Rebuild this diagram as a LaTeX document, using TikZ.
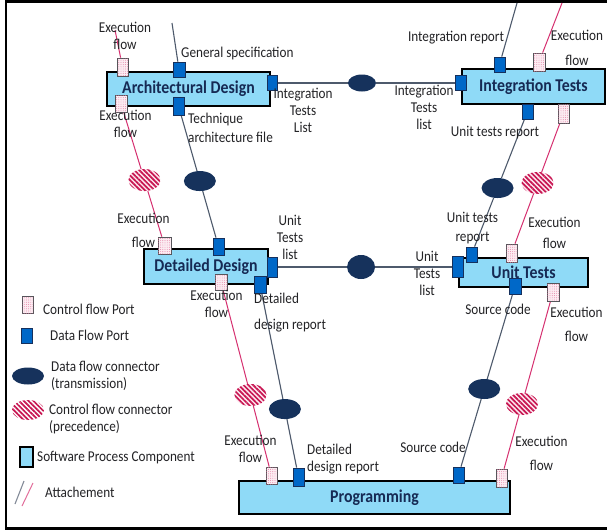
\documentclass[tikz,border=0pt]{standalone}
\usepackage{fontspec}
\setmainfont{Carlito}[FakeStretch=0.88]
\usetikzlibrary{shapes.geometric,patterns.meta,calc}

\definecolor{compfill}{RGB}{143,218,247}
\definecolor{titlenavy}{RGB}{22,42,84}
\definecolor{portblue}{RGB}{0,104,200}
\definecolor{portedge}{RGB}{22,48,92}
\definecolor{cfill}{RGB}{252,236,242}
\definecolor{cdot}{RGB}{226,120,158}
\definecolor{cedge}{RGB}{85,85,90}
\definecolor{dellfill}{RGB}{22,50,92}
\definecolor{hatchbg}{RGB}{253,232,240}
\definecolor{hatchred}{RGB}{200,22,82}
\definecolor{dlinecol}{RGB}{78,90,108}
\definecolor{clinecol}{RGB}{214,48,112}
\definecolor{labelcol}{RGB}{35,35,38}

\newcommand\lblfont{\fontsize{15}{17}\selectfont}
\newcommand\titlefont{\fontsize{18}{20}\selectfont\bfseries}

\pgfdeclarelayer{paper}
\pgfdeclarelayer{links}
\pgfsetlayers{paper,links,main}

\begin{document}
\begin{tikzpicture}[x=1pt,y=-1pt,
  comp/.style={draw=black, line width=2.2pt, fill=compfill, text=titlenavy,
    font=\titlefont, inner sep=0pt},
  dport/.style={draw=portedge, line width=0.8pt, fill=portblue,
    minimum width=11, minimum height=16, inner sep=0pt},
  cport/.style={draw=cedge, line width=0.7pt, fill=cfill,
    postaction={pattern={Dots[radius=0.45pt,distance=2.2pt]}, pattern color=cdot},
    minimum width=11, minimum height=17, inner sep=0pt},
  dconn/.style={ellipse, fill=dellfill, inner sep=0pt,
    minimum width=32, minimum height=20},
  cconn/.style={ellipse, fill=hatchbg, inner sep=0pt,
    postaction={pattern={Lines[angle=-45,distance=3.4pt,line width=1.7pt]}, pattern color=hatchred},
    minimum width=32, minimum height=22},
  dline/.style={draw=dlinecol, line width=1.1pt},
  cline/.style={draw=clinecol, line width=1pt},
  lbl/.style={font=\lblfont, text=labelcol, inner sep=0pt, align=center},
  lbll/.style={lbl, align=left, anchor=west}]

% page and frame
\useasboundingbox (0,0) rectangle (607,531);
\begin{pgfonlayer}{paper}
  \fill[white] (0,0) rectangle (607,531);
  \draw[line width=2.6pt] (6,1.5) rectangle (620,528.5);
\end{pgfonlayer}

% software process components
\node[comp, minimum width=163, minimum height=34] (arch) at (188.5,89) {Architectural Design};
\node[comp, minimum width=143, minimum height=35] (integ) at (533.5,86.5) {Integration Tests};
\node[comp, minimum width=124, minimum height=35] (detail) at (206,266.5) {Detailed Design};
\node[comp, minimum width=129, minimum height=29] (unit) at (523.5,272.5) {Unit Tests};
\node[comp, minimum width=271, minimum height=33] (prog) at (374.5,497.5) {Programming};

% ports of Architectural Design
\node[cport, minimum height=18] (ctrlA1) at (122.5,67) {};
\node[dport, minimum width=12, minimum height=15] (dataA1) at (179,69.5) {};
\node[dport, minimum width=10, minimum height=15] (dataA2) at (272,83) {};
\node[cport, minimum width=12] (ctrlA2) at (121,103.5) {};
\node[dport, minimum height=18] (dataA3) at (178.5,106) {};

% ports of Integration Tests
\node[dport, minimum height=15] (dataI1) at (460.5,83) {};
\node[dport, minimum height=15] (dataI2) at (499.5,64.5) {};
\node[cport, minimum width=12, minimum height=18] (ctrlI1) at (539,62) {};
\node[dport, minimum height=15] (dataI3) at (527.5,111.5) {};
\node[cport, minimum height=19] (ctrlI2) at (563.5,113.5) {};

% ports of Detailed Design
\node[cport, minimum width=13] (ctrlD1) at (164.5,245.5) {};
\node[dport, minimum height=17] (dataD1) at (218.5,246.5) {};
\node[dport, minimum width=10, minimum height=20] (dataD2) at (272,267) {};
\node[dport, minimum width=12, minimum height=17] (dataD3) at (260,284.5) {};
\node[cport, minimum width=12, minimum height=16] (ctrlD2) at (221,282) {};

% ports of Unit Tests
\node[dport, minimum height=21] (dataU1) at (457.5,267) {};
\node[dport, minimum height=15] (dataU2) at (471.5,254.5) {};
\node[cport, minimum height=18] (ctrlU1) at (511.5,253) {};
\node[dport, minimum width=12] (dataU3) at (515,286) {};
\node[cport, minimum width=12, minimum height=18] (ctrlU2) at (553,292) {};

% ports of Programming
\node[cport] (ctrlP1) at (271.5,475.5) {};
\node[dport, minimum height=18] (dataP1) at (298.5,477) {};
\node[dport] (dataP2) at (458.5,475) {};
\node[cport, minimum height=18] (ctrlP2) at (501.5,478) {};

% connectors (transmission and precedence)
\node[dconn] (eD1) at ($(dataA3)!0.534!(dataD1)$) {};
\node[cconn] (eC1) at ($(ctrlA2)!0.539!(ctrlD1)$) {};
\node[dconn, minimum width=28, minimum height=17] (eH1) at ($(dataA2)!0.477!(dataI1)$) {};
\node[dconn] (eD2) at ($(dataI3)!0.535!(dataU2)$) {};
\node[cconn] (eC2) at ($(ctrlI2)!0.498!(ctrlU1)$) {};
\node[dconn, minimum width=28, minimum height=24] (eH2) at ($(dataD2)!0.48!(dataU1)$) {};
\node[dconn] (eD3) at ($(dataD3)!0.647!(dataP1)$) {};
\node[cconn] (eC3) at ($(ctrlD2)!0.584!(ctrlP1)$) {};
\node[dconn] (eD4) at ($(dataU3)!0.545!(dataP2)$) {};
\node[cconn] (eC4) at ($(ctrlU2)!0.602!(ctrlP2)$) {};

% free ends of the incoming attachments
\coordinate (inA) at (172,23);
\coordinate (inAc) at (115,30);
\coordinate (inI) at (517,3);
\coordinate (inIc) at (562,3);

% attachments
\begin{pgfonlayer}{links}
  \draw[dline] (inA) -- (dataA1);
  \draw[cline] (inAc) -- (ctrlA1);
  \draw[dline] (inI) -- (dataI2);
  \draw[cline] (inIc) -- (ctrlI1);
  \draw[dline] (dataA3) -- (eD1) -- (dataD1);
  \draw[cline] (ctrlA2) -- (eC1) -- (ctrlD1);
  \draw[dline] (dataA2) -- (eH1) -- (dataI1);
  \draw[dline] (dataI3) -- (eD2) -- (dataU2);
  \draw[cline] (ctrlI2) -- (eC2) -- (ctrlU1);
  \draw[dline] (dataD2) -- (eH2) -- (dataU1);
  \draw[dline] (dataD3) -- (eD3) -- (dataP1);
  \draw[cline] (ctrlD2) -- (eC3) -- (ctrlP1);
  \draw[dline] (dataU3) -- (eD4) -- (dataP2);
  \draw[cline] (ctrlU2) -- (eC4) -- (ctrlP2);
\end{pgfonlayer}

% labels
\node[lbl] (l1) at (125,36) {Execution\\flow};
\node[lbll] (l2) at (181,53) {General specification};
\node[lbl] (l3) at (125.5,124) {Execution\\flow};
\node[lbll] (l4) at (188,127.5) {Technique\\[2pt]architecture file};
\node[lbl] (l5) at (303,110) {Integration\\Tests\\List};
\node[lbl] (l6) at (456,38) {Integration report};
\node[lbl] (l7) at (577,47.5) {Execution\\[8pt]flow};
\node[lbl] (l8) at (424,107) {Integration\\Tests\\list};
\node[lbl] (l9) at (495,133) {Unit tests report};
\node[lbl] (l10) at (143.5,230) {Execution\\[7pt]flow};
\node[lbl] (l11) at (290,237.5) {Unit\\Tests\\list};
\node[lbl] (l12) at (216.5,303.5) {Execution\\flow};
\node[lbll] (l13) at (254,313) {Detailed\\[9pt]design report};
\node[lbl] (l14) at (472.5,228.5) {Unit tests\\[2pt]report};
\node[lbl] (l15) at (554.5,232.5) {Execution\\[4pt]flow};
\node[lbl] (l16) at (427,273) {Unit\\Tests\\list};
\node[lbl] (l17) at (498,309) {Source code};
\node[lbl] (l18) at (576.5,324) {Execution\\[7pt]flow};
\node[lbl] (l19) at (250.5,449) {Execution\\flow};
\node[lbll] (l20) at (307,459) {Detailed\\design report};
\node[lbl] (l21) at (433,447) {Source code};
\node[lbl] (l22) at (541.5,453) {Execution\\[7pt]flow};

% legend
\node[cport] (kC) at (27.5,304.5) {};
\node[lbll] (kCt) at (43,309) {Control flow Port};
\node[dport, minimum height=15] (kD) at (26.5,335.5) {};
\node[lbll] (kDt) at (50,335) {Data Flow Port};
\node[dconn, minimum height=17] (kE) at (28,376) {};
\node[lbll] (kEt) at (51,376) {Data flow connector\\(transmission)};
\node[ellipse, inner sep=0pt, minimum width=32, minimum height=20,
  pattern={Lines[angle=-45,distance=3.4pt,line width=1.7pt]}, pattern color=hatchred] (kH) at (28,410) {};
\node[lbll] (kHt) at (49,419) {Control flow connector\\(precedence)};
\node[draw=black, line width=1.8pt, fill=compfill, minimum width=13, minimum height=20, inner sep=0pt] (kP) at (26.5,457) {};
\node[lbll] (kPt) at (37,458) {Software Process Component};
\coordinate (kg1) at (15,504);
\coordinate (kg2) at (24,481);
\coordinate (kp1) at (22,506);
\coordinate (kp2) at (33,483);
\draw[dline, draw=dlinecol!70] (kg1) -- (kg2);
\draw[cline, draw=clinecol!70] (kp1) -- (kp2);
\node[lbll] (kAt) at (45,492) {Attachement};
\end{tikzpicture}
\end{document}
